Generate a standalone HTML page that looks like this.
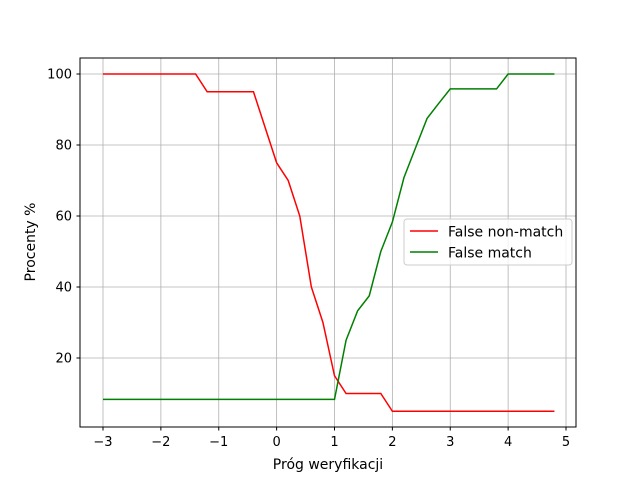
<!DOCTYPE html>
<html><head><meta charset="utf-8"><style>
body{margin:0;background:#fff;}
svg{font-family:"DejaVu Sans","Liberation Sans",sans-serif;}
</style></head><body>
<svg id="chart" width="640" height="480" xmlns="http://www.w3.org/2000/svg">
<rect width="640" height="480" fill="#fff"/>
<g id="grid"></g>
<g id="series"></g>
<rect x="80" y="58" width="496" height="369" fill="none" stroke="#000" stroke-width="1"/>
<g id="ticks"></g>
<text x="328" y="469" font-size="14" text-anchor="middle">Próg weryfikacji</text>
<text transform="translate(35,242) rotate(-90)" font-size="14" text-anchor="middle">Procenty %</text>
<g>
<rect x="404" y="219" width="168" height="46" rx="3" fill="#fff" fill-opacity="0.8" stroke="#ccc"/>
<line x1="410" y1="231" x2="438" y2="231" stroke="red" stroke-width="1.5"/>
<text x="448" y="236.5" font-size="14">False non-match</text>
<line x1="410" y1="252" x2="438" y2="252" stroke="green" stroke-width="1.5"/>
<text x="448" y="257.5" font-size="14">False match</text>
</g>
</svg>
<script>
const xValues=[-3,-2.8,-2.6,-2.4,-2.2,-2,-1.8,-1.6,-1.4,-1.2,-1,-0.8,-0.6,-0.4,-0.2,0,0.2,0.4,0.6,0.8,1,1.2,1.4,1.6,1.8,2,2.2,2.4,2.6,2.8,3,3.2,3.4,3.6,3.8,4,4.2,4.4,4.6,4.8];
const falseNonMatch=[100,100,100,100,100,100,100,100,100,95,95,95,95,95,85,75,70,60,40,30,15,10,10,10,10,5,5,5,5,5,5,5,5,5,5,5,5,5,5,5];
const falseMatch=[8.33,8.33,8.33,8.33,8.33,8.33,8.33,8.33,8.33,8.33,8.33,8.33,8.33,8.33,8.33,8.33,8.33,8.33,8.33,8.33,8.33,25,33.3,37.5,50,58.3,70.8,79.2,87.5,91.7,95.8,95.8,95.8,95.8,95.8,100,100,100,100,100];
const xTicks=[-3,-2,-1,0,1,2,3,4,5];
const yTicks=[20,40,60,80,100];
const xs=v=>103+(v+3)*57.875;
const ys=v=>429-v*3.55;
const NS="http://www.w3.org/2000/svg";
const grid=document.getElementById('grid'),ticks=document.getElementById('ticks'),series=document.getElementById('series');
function mk(tag,attrs,parent){const e=document.createElementNS(NS,tag);for(const k in attrs)e.setAttribute(k,attrs[k]);parent.appendChild(e);return e;}
xTicks.forEach(t=>{const x=xs(t);
 const g=mk('line',{x1:x,x2:x,y1:58,y2:427,stroke:'#b0b0b0','stroke-width':0.8},grid);
 
 
 mk('line',{x1:x,x2:x,y1:427,y2:430.5,stroke:'#000'},ticks);
 const tx=mk('text',{x:x,y:446,'font-size':13,'text-anchor':'middle'},ticks);tx.textContent=(t<0?'\u2212'+(-t):t);
 
 
});
yTicks.forEach(t=>{const y=ys(t);
 const g=mk('line',{x1:80,x2:576,y1:y,y2:y,stroke:'#b0b0b0','stroke-width':0.8},grid);
 
 
 mk('line',{x1:76.5,x2:80,y1:y,y2:y,stroke:'#000'},ticks);
 const tx=mk('text',{x:72,y:y+4.5,'font-size':13,'text-anchor':'end'},ticks);tx.textContent=t;
 
 
});
function line(vals,color,name){
 const p=mk('polyline',{points:vals.map((v,i)=>xs(xValues[i])+','+ys(v)).join(' '),fill:'none',stroke:color,'stroke-width':1.5},series);
 
 
}
line(falseNonMatch,'red','false-non-match-line');
line(falseMatch,'green','false-match-line');
</script>
</body></html>
